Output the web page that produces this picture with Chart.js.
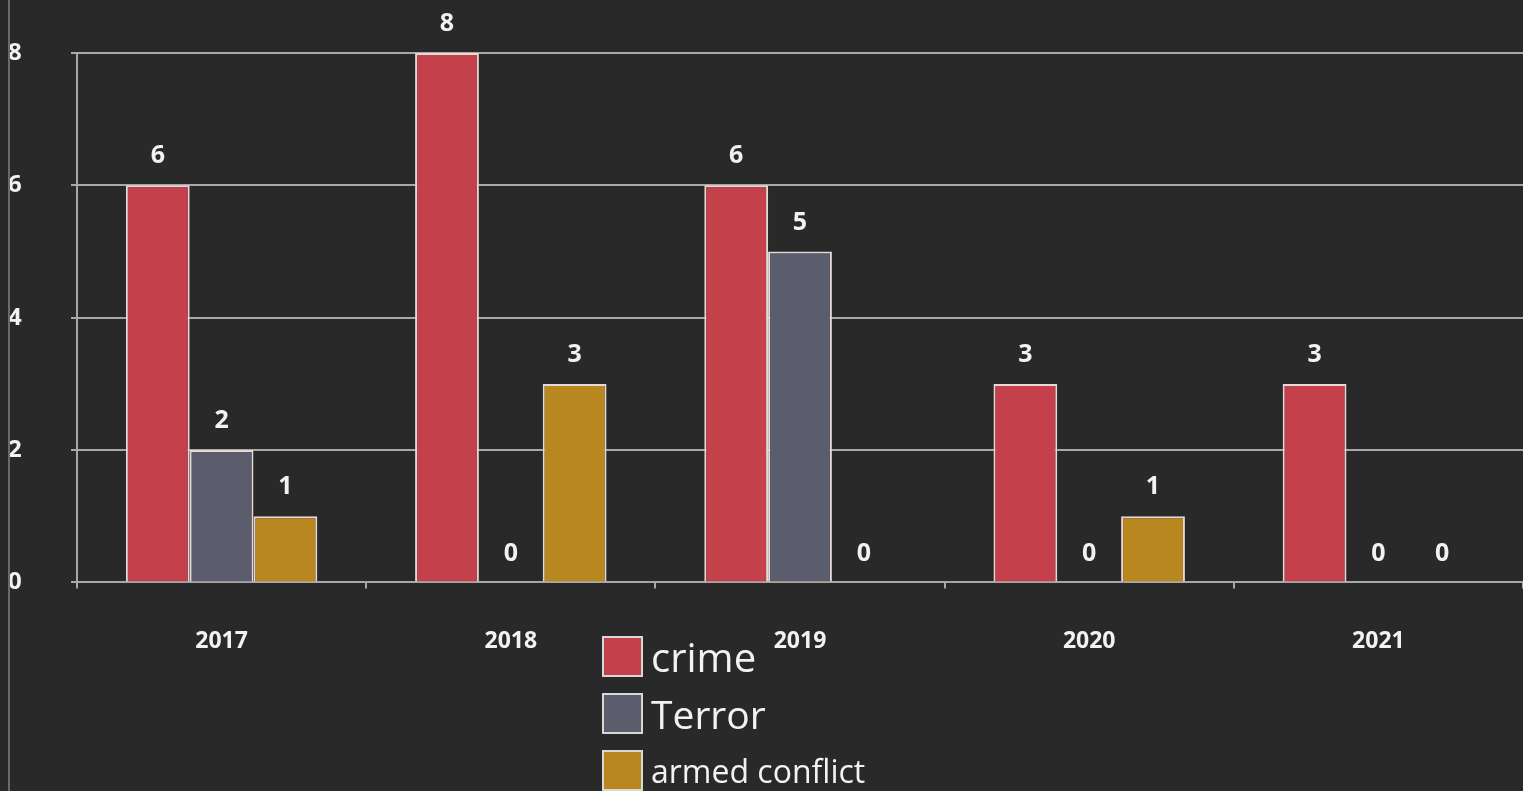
<!DOCTYPE html>
<html>
<head>
<meta charset="utf-8">
<script src="https://cdn.jsdelivr.net/npm/chart.js@4/dist/chart.umd.min.js"></script>
<style>
  html, body { margin: 0; padding: 0; background: #292929; }
  #wrap { position: relative; width: 1523px; height: 791px; overflow: hidden; }
  #edge { position: absolute; left: 8px; top: 0; width: 2px; height: 791px; background: #6a6a6a; }
  #legend { position: absolute; left: 602px; top: 628px; font-family: "Open Sans", sans-serif; color: #f2f2f2; }
  .item { display: flex; align-items: center; height: 57px; }
  .box { width: 37px; height: 37px; border: 2px solid #d8d8d8; margin-right: 8px; }
</style>
</head>
<body>
<div id="wrap">
  <canvas id="chart" width="1523" height="791"></canvas>
  <div id="edge"></div>
  <div id="legend"></div>
</div>
<script>
//------------------------Data----------------------------------//
const years = ['2017', '2018', '2019', '2020', '2021'];
const crime = [6, 8, 6, 3, 3];
const terror = [2, 0, 5, 0, 0];
const armedConflict = [1, 3, 0, 1, 0];
const seriesNames = ['crime', 'Terror', 'armed conflict'];
const seriesColors = ['#c4404a', '#5b5d6c', '#b8871f'];
const legendSizes = [40, 39, 32];

const font = '"Open Sans", sans-serif';

// value labels above every bar, zeros included
const valueLabels = {
    id: 'valueLabels',
    afterDatasetsDraw(chart) {
        const ctx = chart.ctx;
        ctx.save();
        ctx.fillStyle = '#f2f2f2';
        ctx.font = 'bold 25px ' + font;
        ctx.textAlign = 'center';
        ctx.textBaseline = 'middle';
        chart.data.datasets.forEach((ds, i) => {
            chart.getDatasetMeta(i).data.forEach((bar, j) => {
                ctx.fillText(ds.data[j], bar.x, bar.y - 29);
            });
        });
        ctx.restore();
    }
};

let ctx = document.getElementById('chart').getContext('2d');

let barChart = new Chart(ctx, {
    type: 'bar',
    data: {
        labels: years,
        datasets: [crime, terror, armedConflict].map((d, i) => ({
            label: seriesNames[i],
            data: d,
            backgroundColor: seriesColors[i],
            borderColor: '#e6d8d8',
            borderWidth: 2,
            categoryPercentage: 0.662,
            barPercentage: 1.0
        }))
    },
    options: {
        responsive: false,
        animation: false,
        layout: { padding: { left: 8, top: 53, right: 0, bottom: 97 } },
        plugins: {
            legend: { display: false },
            tooltip: { enabled: false }
        },
        scales: {
            x: {
                grid: {
                    drawOnChartArea: false,
                    drawTicks: true,
                    tickLength: 6,
                    color: '#a8a8a8',
                    lineWidth: 2
                },
                border: { color: '#a8a8a8', width: 2 },
                ticks: {
                    color: '#f2f2f2',
                    font: { family: font, size: 23, weight: 'bold' },
                    padding: 39
                }
            },
            y: {
                min: 0,
                max: 8,
                afterFit(scale) { scale.width = 69; },
                grid: {
                    color: '#a8a8a8',
                    lineWidth: 2,
                    drawTicks: true,
                    tickLength: 6
                },
                border: { color: '#a8a8a8', width: 2 },
                ticks: {
                    stepSize: 2,
                    crossAlign: 'far',
                    padding: 4,
                    color: '#f2f2f2',
                    font: { family: font, size: 24, weight: 'bold' }
                }
            }
        }
    },
    plugins: [valueLabels]
});

// legend built from the same series names and colours
const legend = document.getElementById('legend');
seriesNames.forEach((name, i) => {
    const item = document.createElement('div');
    item.className = 'item';
    item.innerHTML = '<div class="box" style="background:' + seriesColors[i] + '"></div>' +
        '<span style="font-size:' + legendSizes[i] + 'px">' + name + '</span>';
    legend.appendChild(item);
});
</script>
</body>
</html>
